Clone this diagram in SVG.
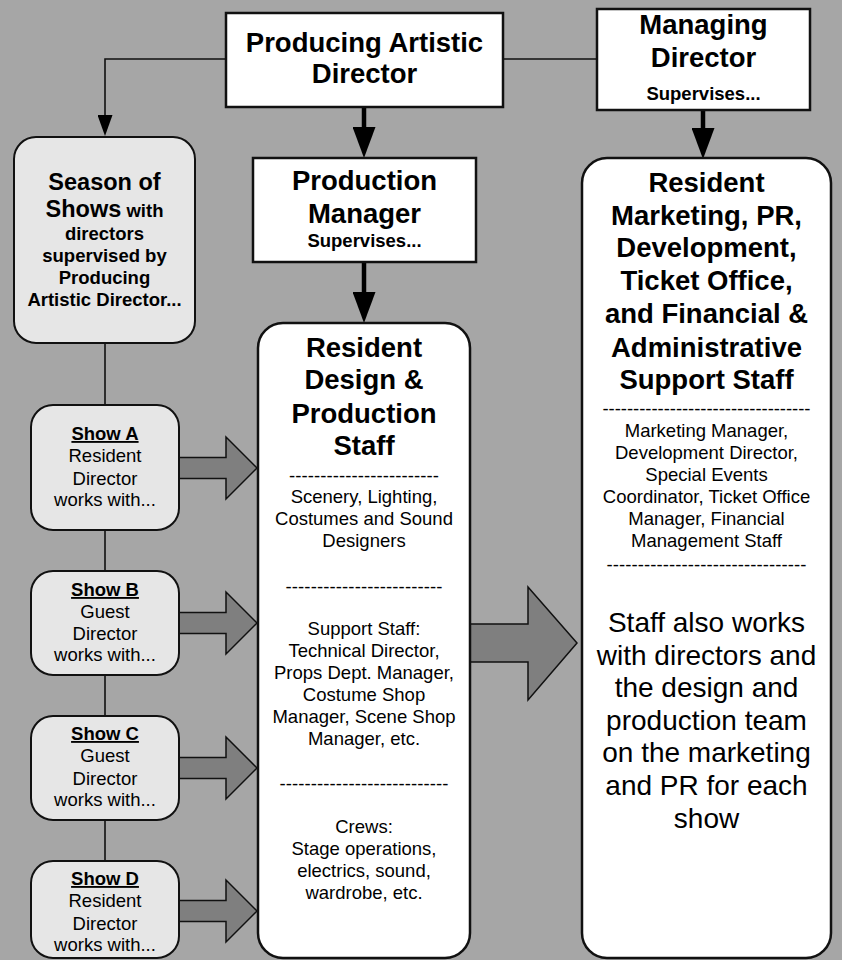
<svg xmlns="http://www.w3.org/2000/svg" width="842" height="960" viewBox="0 0 842 960">
<style>
text{font-family:"Liberation Sans",Arial,sans-serif;fill:#000;text-anchor:middle}
.t{font-size:27.5px;font-weight:bold}
.s{font-size:18.5px;font-weight:bold}
.r{font-size:18.5px}
.big{font-size:28px}
.u{text-decoration:underline}
.box{fill:#fff;stroke:#111;stroke-width:2.5}
.lbox{fill:#e6e6e6;stroke:#111;stroke-width:2}
.thin{fill:none;stroke:#111;stroke-width:1.6}
.thick{fill:none;stroke:#000;stroke-width:4.5}
.blk{fill:#7f7f7f;stroke:#111;stroke-width:1.5;stroke-linejoin:miter}
</style>
<defs>
<marker id="hThick" markerUnits="userSpaceOnUse" markerWidth="31" markerHeight="23" viewBox="0 0 31 23" refX="0" refY="11.5" orient="auto"><path d="M0,0 L31,11.5 L0,23 Z" fill="#000"/></marker>
<marker id="hThin" markerUnits="userSpaceOnUse" markerWidth="21" markerHeight="15" viewBox="0 0 21 15" refX="0" refY="7.5" orient="auto"><path d="M0,0 L21,7.5 L0,15 Z" fill="#000"/></marker>
</defs>
<rect x="0" y="0" width="842" height="960" fill="#a6a6a6"/>

<g id="connectors">
<path class="thin" d="M226,59 H105 V115" marker-end="url(#hThin)"/>
<path class="thin" d="M503,59 H597"/>
<path class="thick" d="M364,107 V127" marker-end="url(#hThick)"/>
<path class="thick" d="M364,262 V292" marker-end="url(#hThick)"/>
<path class="thick" d="M703,110 V128" marker-end="url(#hThick)"/>
<path class="thin" d="M105,343 V405 M105,530 V571 M105,675 V716 M105,820 V861"/>
<path class="blk" d="M179,457.5 H226 V437 L257,468 L226,499 V478.5 H179 Z"/>
<path class="blk" d="M179,612.5 H226 V592 L257,623 L226,654 V633.5 H179 Z"/>
<path class="blk" d="M179,757.5 H226 V737 L257,768 L226,799 V778.5 H179 Z"/>
<path class="blk" d="M179,900.5 H226 V880 L257,911 L226,942 V921.5 H179 Z"/>
<path class="blk" d="M470,624 H528 V587 L577,643 L528,700 V662 H470 Z"/>
</g>

<g id="pad">
<rect class="box" x="226" y="13" width="277" height="94"/>
<text class="t" x="364.5" y="52">Producing Artistic</text>
<text class="t" x="364.5" y="83">Director</text>
</g>

<g id="md">
<rect class="box" x="597" y="9" width="213" height="101"/>
<text class="t" x="703.5" y="34">Managing</text>
<text class="t" x="703.5" y="67">Director</text>
<text class="s" x="703.5" y="100">Supervises...</text>
</g>

<g id="season">
<rect class="lbox" x="14" y="137" width="181" height="206" rx="22"/>
<text x="104.5" y="190" style="font-size:23.5px;font-weight:bold">Season of</text>
<text x="104.5" y="217" style="font-weight:bold"><tspan style="font-size:23.5px">Shows</tspan><tspan style="font-size:18.5px"> with</tspan></text>
<text class="s" x="104.5" y="240">directors</text>
<text class="s" x="104.5" y="262">supervised by</text>
<text class="s" x="104.5" y="284">Producing</text>
<text class="s" x="104.5" y="306">Artistic Director...</text>
</g>

<g id="showA">
<rect class="lbox" x="31" y="405" width="148" height="125" rx="22"/>
<text class="s u" x="105" y="440">Show A</text>
<text class="r" x="105" y="462">Resident</text>
<text class="r" x="105" y="485">Director</text>
<text class="r" x="105" y="506">works with...</text>
</g>

<g id="showB">
<rect class="lbox" x="31" y="571" width="148" height="104" rx="22"/>
<text class="s u" x="105" y="596">Show B</text>
<text class="r" x="105" y="618">Guest</text>
<text class="r" x="105" y="640">Director</text>
<text class="r" x="105" y="661">works with...</text>
</g>

<g id="showC">
<rect class="lbox" x="31" y="716" width="148" height="104" rx="22"/>
<text class="s u" x="105" y="740">Show C</text>
<text class="r" x="105" y="762">Guest</text>
<text class="r" x="105" y="785">Director</text>
<text class="r" x="105" y="806">works with...</text>
</g>

<g id="showD">
<rect class="lbox" x="31" y="861" width="148" height="97" rx="22"/>
<text class="s u" x="105" y="885">Show D</text>
<text class="r" x="105" y="907">Resident</text>
<text class="r" x="105" y="930">Director</text>
<text class="r" x="105" y="951">works with...</text>
</g>

<g id="pm">
<rect class="box" x="253" y="158" width="223" height="104"/>
<text class="t" x="364.5" y="190">Production</text>
<text class="t" x="364.5" y="223">Manager</text>
<text class="s" x="364.5" y="247">Supervises...</text>
</g>

<g id="design">
<rect class="box" x="258" y="323" width="212" height="635" rx="25"/>
<text class="t" x="364" y="357">Resident</text>
<text class="t" x="364" y="389">Design &amp;</text>
<text class="t" x="364" y="423">Production</text>
<text class="t" x="364" y="455">Staff</text>
<text class="r" x="364" y="481.5" textLength="150" lengthAdjust="spacing">------------------------</text>
<text class="r" x="364" y="503">Scenery, Lighting,</text>
<text class="r" x="364" y="525">Costumes and Sound</text>
<text class="r" x="364" y="547">Designers</text>
<text class="r" x="364" y="592.5" textLength="157" lengthAdjust="spacing">-------------------------</text>
<text class="r" x="364" y="635">Support Staff:</text>
<text class="r" x="364" y="657">Technical Director,</text>
<text class="r" x="364" y="679">Props Dept. Manager,</text>
<text class="r" x="364" y="701">Costume Shop</text>
<text class="r" x="364" y="723">Manager, Scene Shop</text>
<text class="r" x="364" y="745">Manager, etc.</text>
<text class="r" x="364" y="789.5" textLength="169" lengthAdjust="spacing">---------------------------</text>
<text class="r" x="364" y="833">Crews:</text>
<text class="r" x="364" y="855">Stage operations,</text>
<text class="r" x="364" y="877">electrics, sound,</text>
<text class="r" x="364" y="899">wardrobe, etc.</text>
</g>

<g id="admin">
<rect class="box" x="582" y="158" width="249" height="800" rx="25"/>
<text class="t" x="706.5" y="192">Resident</text>
<text class="t" x="706.5" y="225">Marketing, PR,</text>
<text class="t" x="706.5" y="257">Development,</text>
<text class="t" x="706.5" y="290">Ticket Office,</text>
<text class="t" x="706.5" y="323">and Financial &amp;</text>
<text class="t" x="706.5" y="357">Administrative</text>
<text class="t" x="706.5" y="389">Support Staff</text>
<text class="r" x="706.5" y="414.5" textLength="208" lengthAdjust="spacing">----------------------------------</text>
<text class="r" x="706.5" y="437">Marketing Manager,</text>
<text class="r" x="706.5" y="459">Development Director,</text>
<text class="r" x="706.5" y="481">Special Events</text>
<text class="r" x="706.5" y="503">Coordinator, Ticket Office</text>
<text class="r" x="706.5" y="525">Manager, Financial</text>
<text class="r" x="706.5" y="547">Management Staff</text>
<text class="r" x="706.5" y="570.5" textLength="200" lengthAdjust="spacing">--------------------------------</text>
<text class="big" x="706.5" y="632">Staff also works</text>
<text class="big" x="706.5" y="665">with directors and</text>
<text class="big" x="706.5" y="697">the design and</text>
<text class="big" x="706.5" y="730">production team</text>
<text class="big" x="706.5" y="762">on the marketing</text>
<text class="big" x="706.5" y="795">and PR for each</text>
<text class="big" x="706.5" y="828">show</text>
</g>
</svg>
